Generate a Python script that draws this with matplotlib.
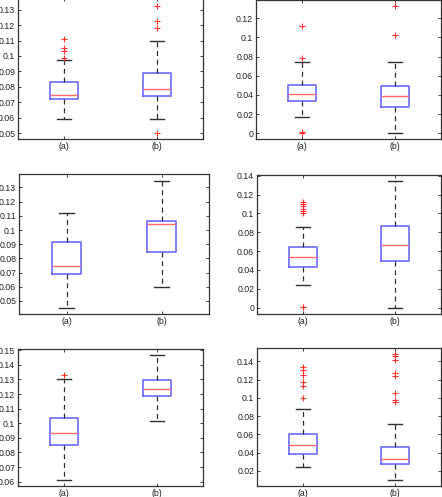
import matplotlib
matplotlib.use("Agg")
import matplotlib.pyplot as plt

plt.rcParams['font.family'] = ['Liberation Sans', 'DejaVu Sans']

W, H = 442, 497
DPI = 100

groups = ["(a)", "(b)"]

# Each panel: per group [whislo, q1, med, q3, whishi], outliers
p1_stats = [[0.0590, 0.0723, 0.0745, 0.0829, 0.0971],
            [0.0592, 0.0739, 0.0784, 0.0887, 0.1097]]
p1_fliers = [[0.1113, 0.1052, 0.1031, 0.0984],
             [0.1321, 0.1225, 0.1181, 0.0500]]

p2_stats = [[0.0173, 0.0333, 0.0406, 0.0503, 0.0746],
            [0.0000, 0.0271, 0.0385, 0.0493, 0.0746]]
p2_fliers = [[0.1118, 0.0784, 0.0010, 0.0003],
             [0.1323, 0.1020]]

p3_stats = [[0.0453, 0.0688, 0.0747, 0.0919, 0.1123],
            [0.0597, 0.0846, 0.1039, 0.1067, 0.1349]]
p3_fliers = [[], []]

p4_stats = [[0.0238, 0.0429, 0.0535, 0.0644, 0.0853],
            [0.0000, 0.0499, 0.0668, 0.0867, 0.1347]]
p4_fliers = [[0.1125, 0.1100, 0.1075, 0.1050, 0.1030, 0.1005, 0.0010, 0.0003],
             []]

p5_stats = [[0.0610, 0.0849, 0.0931, 0.1036, 0.1303],
            [0.1018, 0.1185, 0.1233, 0.1299, 0.1470]]
p5_fliers = [[0.1333], []]

p6_stats = [[0.0240, 0.0389, 0.0488, 0.0602, 0.0880],
            [0.0097, 0.0273, 0.0327, 0.0466, 0.0715]]
p6_fliers = [[0.1338, 0.1309, 0.1250, 0.1174, 0.1136, 0.1004],
             [0.1481, 0.1463, 0.1419, 0.1268, 0.1240, 0.1059, 0.0982, 0.0957]]

p1_ticks = [0.05, 0.06, 0.07, 0.08, 0.09, 0.10, 0.11, 0.12, 0.13]
p2_ticks = [0.0, 0.02, 0.04, 0.06, 0.08, 0.10, 0.12]
p3_ticks = [0.05, 0.06, 0.07, 0.08, 0.09, 0.10, 0.11, 0.12, 0.13]
p4_ticks = [0.0, 0.02, 0.04, 0.06, 0.08, 0.10, 0.12, 0.14]
p5_ticks = [0.06, 0.07, 0.08, 0.09, 0.10, 0.11, 0.12, 0.13, 0.14, 0.15]
p6_ticks = [0.02, 0.04, 0.06, 0.08, 0.10, 0.12, 0.14]

panels = [
    # stats, fliers, ticks, ylim, pixel box (left, top, right, bottom)
    (p1_stats, p1_fliers, p1_ticks, (0.0463, 0.1375), (18, -2, 203, 139)),
    (p2_stats, p2_fliers, p2_ticks, (-0.006, 0.139), (256, 0, 441, 139)),
    (p3_stats, p3_fliers, p3_ticks, (0.0408, 0.1395), (19, 174, 209, 314)),
    (p4_stats, p4_fliers, p4_ticks, (-0.0067, 0.1407), (257, 175, 441, 314)),
    (p5_stats, p5_fliers, p5_ticks, (0.057, 0.1509), (18, 349, 203, 486)),
    (p6_stats, p6_fliers, p6_ticks, (0.0035, 0.1547), (257, 348, 441, 486)),
]

def fmt(v):
    s = ("%.2f" % v).rstrip('0').rstrip('.')
    return s if s else "0"

fig = plt.figure(figsize=(W / DPI, H / DPI), dpi=DPI)
box_c = '#6b6bff'
med_c = '#ff6b6b'
wh_c = '#303030'

for stats, fliers, ticks, ylim, (l, t, r, b) in panels:
    ax = fig.add_axes([l / W, 1 - b / H, (r - l) / W, (b - t) / H])
    bxp = []
    for g, s, f in zip(groups, stats, fliers):
        bxp.append(dict(label=g, whislo=s[0], q1=s[1], med=s[2], q3=s[3],
                        whishi=s[4], fliers=f))
    ax.bxp(bxp, positions=[1, 2], widths=0.3, showfliers=True,
           boxprops=dict(color=box_c, linewidth=1.2),
           medianprops=dict(color=med_c, linewidth=1.0),
           whiskerprops=dict(color=wh_c, linestyle=(0, (4, 3)), linewidth=0.9),
           capprops=dict(color=wh_c, linewidth=1.0),
           capwidths=0.15,
           flierprops=dict(marker='+', markeredgecolor='#ff3030',
                           markersize=4, markeredgewidth=0.8, linestyle='none'))
    ax.set_xlim(0.5, 2.5)
    ax.set_ylim(*ylim)
    ax.set_yticks(ticks)
    ax.set_yticklabels([fmt(v) for v in ticks])
    ax.set_xticks([1, 2])
    ax.set_xticklabels(groups)
    ax.tick_params(direction='in', length=2.5, width=0.6, labelsize=6.3,
                   top=True, right=True, pad=2, colors='#222222')
    for sp in ax.spines.values():
        sp.set_linewidth(0.9)
        sp.set_color('#333333')

fig.savefig("out.png", dpi=DPI)
